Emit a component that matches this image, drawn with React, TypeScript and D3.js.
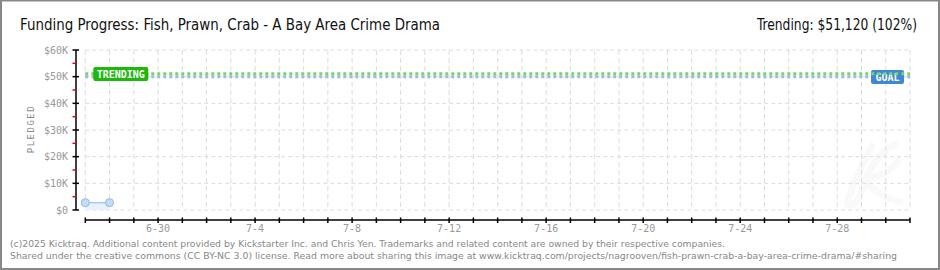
import React from "react";
import * as d3 from "d3";

const W = 940;
const H = 270;

const titleText = "Funding Progress: Fish, Prawn, Crab - A Bay Area Crime Drama";
const trendingText = "Trending:  $51,120 (102%)";
const footer1 = "(c)2025 Kicktraq. Additional content provided by Kickstarter Inc. and Chris Yen. Trademarks and related content are owned by their respective companies.";
const footer2 = "Shared under the creative commons (CC BY-NC 3.0) license. Read more about sharing this image at www.kicktraq.com/projects/nagrooven/fish-prawn-crab-a-bay-area-crime-drama/#sharing";

const pledgeDates = ["2025-06-27", "2025-06-28"];
const pledgeValues = [2750, 2750];
const trendingValue = 51120;
const goalValue = 50000;
const domainStart = "2025-06-27";
const domainEnd = "2025-07-31";
const yTicks = [0, 10000, 20000, 30000, 40000, 50000, 60000];
const yMinorTicks = [5000, 15000, 25000, 35000, 45000, 55000];
const yTickLabels = ["$0", "$10K", "$20K", "$30K", "$40K", "$50K", "$60K"];
const xLabelDates = ["2025-06-30", "2025-07-04", "2025-07-08", "2025-07-12", "2025-07-16", "2025-07-20", "2025-07-24", "2025-07-28"];

const parse = d3.utcParse("%Y-%m-%d");
const fmt = d3.utcFormat("%-m-%-d");

export default function App() {
  const x = d3
    .scaleUtc()
    .domain([parse(domainStart)!, parse(domainEnd)!])
    .range([85.3, 910]);
  const y = d3.scaleLinear().domain([0, 60000]).range([210, 50]);

  const days = d3.utcDay.range(parse(domainStart)!, d3.utcDay.offset(parse(domainEnd)!, 1));
  const pts = pledgeDates.map((d, i) => ({ x: x(parse(d)!), y: y(pledgeValues[i]) }));
  const line = d3.line<{ x: number; y: number }>().x((d) => d.x).y((d) => d.y);
  const area = d3
    .area<{ x: number; y: number }>()
    .x((d) => d.x)
    .y0(y(0))
    .y1((d) => d.y);

  const x0 = x(parse(domainStart)!);
  const x1 = x(parse(domainEnd)!);
  const pixelFont = "'DejaVu Sans Mono', 'DejaVu Sans', monospace";
  const narrowFont = "'Liberation Sans Narrow', 'DejaVu Sans Condensed', 'Roboto Condensed', sans-serif";
  const footFont = "'DejaVu Sans', Verdana, sans-serif";

  return (
    <svg
      width={W}
      height={H}
      style={{ position: "absolute", left: 0, top: 0, background: "#fff" }}
    >
      <rect x={1} y={0.5} width={938} height={268.5} fill="#fff" stroke="#888" strokeWidth={2} />

      {/* title */}
      <text x={20} y={30} fontFamily={narrowFont} fontSize={16} fill="#111" textLength={420} lengthAdjust="spacingAndGlyphs">
        {titleText}
      </text>
      <text x={917} y={30} textAnchor="end" fontFamily={narrowFont} fontSize={15} fill="#111" textLength={160} lengthAdjust="spacingAndGlyphs">
        {trendingText}
      </text>

      {/* watermark */}
      <g fill="none" stroke="#f9f9f9" strokeWidth={7} strokeLinecap="round">
        <path d="M872,146 C862,165 852,185 848,200 C845,210 858,205 862,190 C868,170 880,150 896,144" />
        <path d="M862,180 C875,178 892,172 898,160" />
        <path d="M866,184 C878,192 888,200 900,202" />
      </g>

      {/* horizontal grid */}
      {yTicks.map((t) => (
        <line key={"hg" + t} x1={x0} x2={x1} y1={y(t)} y2={y(t)} stroke="#ddd" strokeDasharray="4,3" />
      ))}
      {/* vertical grid */}
      {days.map((d, i) => (
        <line key={"vg" + i} x1={x(d)} x2={x(d)} y1={50} y2={210} stroke="#ddd" strokeDasharray="5,3" />
      ))}

      {/* y axis */}
      <line x1={76} x2={76} y1={50} y2={210} stroke="#000" strokeWidth={1.5} />
      {yTicks.map((t, i) => (
        <g key={"yt" + t}>
          <line x1={72.5} x2={79} y1={y(t)} y2={y(t)} stroke="#000" strokeWidth={1.5} />
          <text x={68} y={y(t)} dy="0.35em" textAnchor="end" fontFamily={pixelFont} fontSize={10} fill="#999">
            {yTickLabels[i]}
          </text>
        </g>
      ))}
      {yMinorTicks.map((t) => (
        <line key={"ym" + t} x1={72.5} x2={75.5} y1={y(t)} y2={y(t)} stroke="#e00" strokeWidth={1.5} />
      ))}
      <text
        transform={`translate(34,129) rotate(-90)`}
        textAnchor="middle"
        fontFamily={pixelFont}
        fontSize={9}
        letterSpacing={1.5}
        fill="#888"
      >
        PLEDGED
      </text>

      {/* x axis */}
      <line x1={x0} x2={x1} y1={220} y2={220} stroke="#000" strokeWidth={1.5} />
      {days.map((d, i) => (
        <line key={"xt" + i} x1={x(d)} x2={x(d)} y1={217.5} y2={223} stroke="#000" strokeWidth={1.5} />
      ))}
      {xLabelDates.map((d) => (
        <text key={"xl" + d} x={x(parse(d)!)} y={232} textAnchor="middle" fontFamily={pixelFont} fontSize={10} fill="#999">
          {fmt(parse(d)!)}
        </text>
      ))}

      {/* pledged area & line */}
      <path d={area(pts)!} fill="#e8f1fc" />
      <path d={line(pts)!} fill="none" stroke="#a9c8ee" strokeWidth={1.5} />
      {pts.map((p, i) => (
        <circle key={"pt" + i} cx={p.x} cy={p.y} r={4} fill="#c5dcf6" stroke="#93b6e2" strokeWidth={1} />
      ))}

      {/* goal line */}
      <line x1={x0} x2={x1} y1={y(goalValue)} y2={y(goalValue)} stroke="#9dbbe8" strokeWidth={3} strokeDasharray="3,3" />
      <rect x={x1 - 39} y={70} width={33} height={14} rx={2} fill="#3f88d4" />
      <text x={x1 - 22.5} y={81} textAnchor="middle" fontFamily={pixelFont} fontSize={10} fontWeight="bold" fill="#fff">
        GOAL
      </text>

      {/* trending line */}
      <line x1={x0} x2={x1} y1={y(trendingValue)} y2={y(trendingValue)} stroke="#7ad466" strokeWidth={3} strokeDasharray="3,3" />
      <rect x={x0 + 8} y={67} width={55} height={14} rx={2} fill="#1db80a" />
      <text x={x0 + 35.5} y={78} textAnchor="middle" fontFamily={pixelFont} fontSize={10} fontWeight="bold" fill="#fff">
        TRENDING
      </text>

      {/* footer */}
      <text x={10} y={247} fontFamily={footFont} fontSize={9.5} fill="#888" textLength={715} lengthAdjust="spacingAndGlyphs">
        {footer1}
      </text>
      <text x={10} y={259} fontFamily={footFont} fontSize={9.5} fill="#888" textLength={887} lengthAdjust="spacingAndGlyphs">
        {footer2}
      </text>
    </svg>
  );
}
